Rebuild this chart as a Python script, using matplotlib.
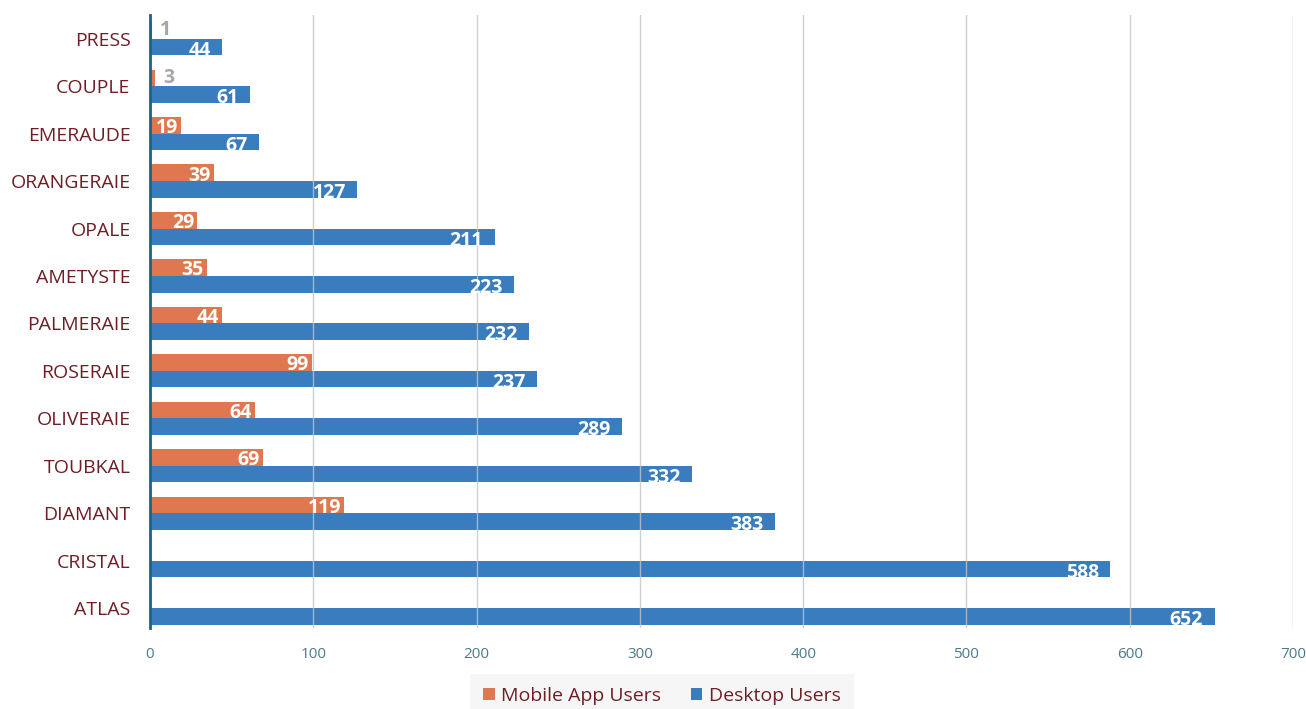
import matplotlib.pyplot as plt
import numpy as np

plt.rcParams['font.family'] = ['Open Sans', 'DejaVu Sans']

categories = ['PRESS', 'COUPLE', 'EMERAUDE', 'ORANGERAIE', 'OPALE', 'AMETYSTE',
              'PALMERAIE', 'ROSERAIE', 'OLIVERAIE', 'TOUBKAL', 'DIAMANT',
              'CRISTAL', 'ATLAS']
mobile = [1, 3, 19, 39, 29, 35, 44, 99, 64, 69, 119, 0, 0]
desktop = [44, 61, 67, 127, 211, 223, 232, 237, 289, 332, 383, 588, 652]
xticks = [0, 100, 200, 300, 400, 500, 600, 700]

c_mob = '#E0784F'
c_desk = '#3A7DBF'
maroon = '#6E1E24'
teal = '#4C7A88'

fig = plt.figure(figsize=(13.06, 7.09), dpi=100)
ax = fig.add_axes([150/1306, 1-628/709, 1143/1306, 613/709])

y = np.arange(len(categories))
h = 0.35
ax.barh(y - h/2, mobile, height=h, color=c_mob, label='Mobile App Users', zorder=2)
ax.barh(y + h/2, desktop, height=h, color=c_desk, label='Desktop Users', zorder=2)

# value labels
for i in range(len(categories)):
    m = mobile[i]
    if m > 0:
        if m < 10:
            ax.text(m + 5, y[i] - h/2 + 0.0, str(m), color='#A6A6A6', fontsize=14,
                    fontweight='bold', ha='left', va='center', zorder=4)
        else:
            ax.text(m - 2, y[i] - h/2 + 0.06, str(m), color='white', fontsize=14,
                    fontweight='bold', ha='right', va='center', zorder=4)
    d = desktop[i]
    ax.text(d - 7, y[i] + h/2 + 0.08, str(d), color='white', fontsize=14,
            fontweight='bold', ha='right', va='center', zorder=4)

ax.set_xlim(0, 700)
ax.set_ylim(12.42, -0.5)
ax.set_xticks(xticks)
ax.set_yticks(y)
ax.set_yticklabels(categories, color=maroon, fontsize=14)
ax.tick_params(axis='y', length=0, pad=14)
ax.tick_params(axis='x', length=0, pad=14, labelcolor=teal, labelsize=11)
ax.grid(axis='x', color='#C4C4C4', linewidth=1, alpha=0.8, zorder=3)
ax.set_axisbelow(False)
for s in ['top', 'right', 'bottom']:
    ax.spines[s].set_visible(False)
ax.spines['left'].set_color('#1F6280')
ax.spines['left'].set_linewidth(2)
ax.spines['left'].set_zorder(5)

leg = fig.legend(loc='center', bbox_to_anchor=(662/1306, 1-696/709), ncol=2,
                 frameon=True, fontsize=14, handlelength=0.6, handleheight=0.6,
                 handletextpad=0.35, columnspacing=1.5, borderpad=0.35)
leg.get_frame().set_facecolor('#F4F4F4')
leg.get_frame().set_edgecolor('none')
leg.get_frame().set_boxstyle('square', pad=0.3)
for t in leg.get_texts():
    t.set_color(maroon)

fig.savefig('out.png', dpi=100)
